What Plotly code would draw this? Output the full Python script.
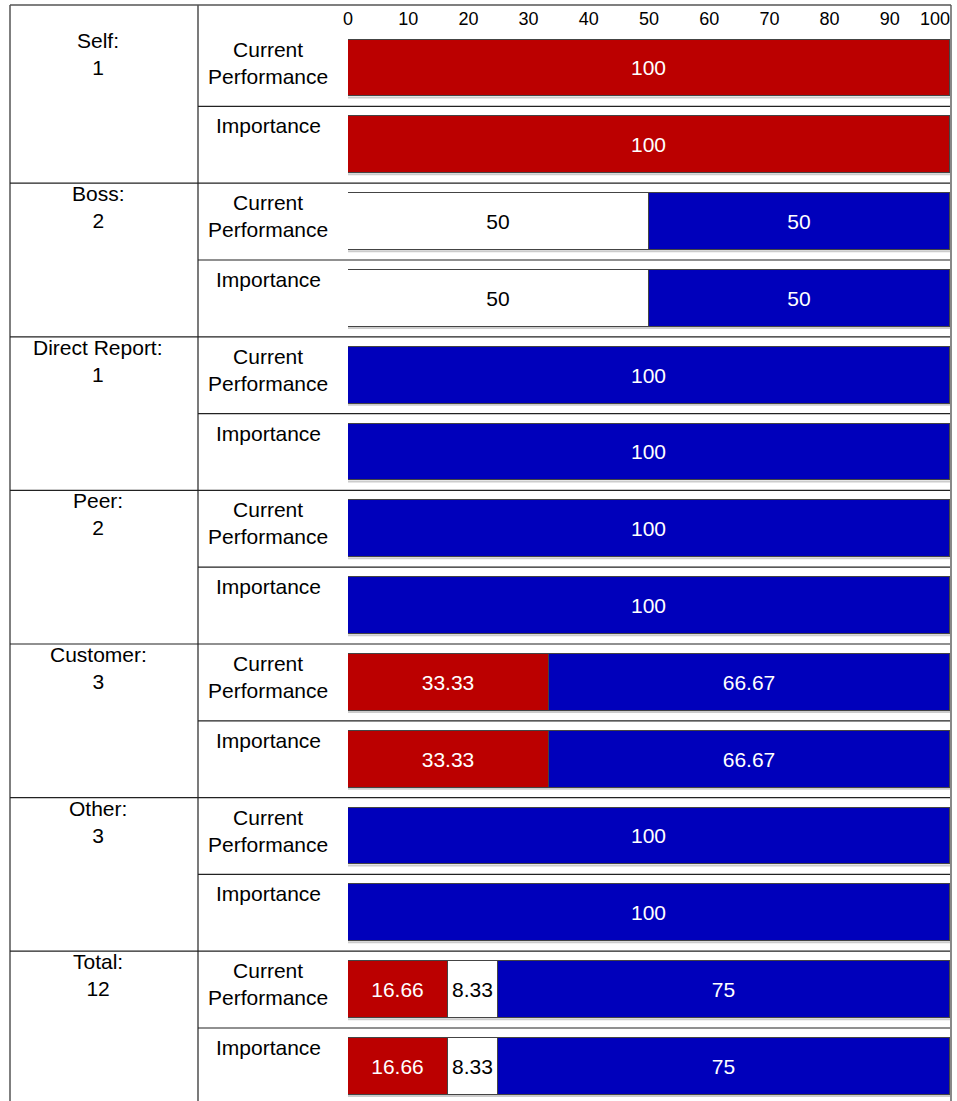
import plotly.graph_objects as go

# ---- data ----
groups = ["Self:", "Boss:", "Direct Report:", "Peer:", "Customer:", "Other:", "Total:"]
group_counts = [1, 2, 1, 2, 3, 3, 12]
row_labels = ["Current<br>Performance", "Importance"] * 7

red_vals = [100, 100, None, None, None, None, None, None, 33.33, 33.33, None, None, 16.66, 16.66]
white_vals = [None, None, 50, 50, None, None, None, None, None, None, None, None, 8.33, 8.33]
blue_vals = [None, None, 50, 50, 100, 100, 100, 100, 66.67, 66.67, 100, 100, 75, 75]

tick_vals = [0, 10, 20, 30, 40, 50, 60, 70, 80, 90, 100]
tick_text = ["0", "10", "20", "30", "40", "50", "60", "70", "80", "90", "100"]

# ---- layout geometry (pixels) ----
W, H = 957, 1101
ML, MR, MT, MB = 348, 7, 30, 0
PW = W - ML - MR
PH = H - MT - MB
ROW_PX = 76.8
y_top = -(68 - MT) / ROW_PX
y_bot = y_top + PH / ROW_PX

def px_x(p):
    return (p - ML) / PW

def px_y(p):
    return (H - MB - p) / PH

FONT = "Liberation Sans, Arial, sans-serif"
RED = "#bb0000"
BLUE = "#0000bb"
FS = 21

rows = list(range(len(row_labels)))

def fmt(v):
    return None if v is None else f"{v:g}"

fig = go.Figure()
for vals, color, tcolor in [(red_vals, RED, "white"), (white_vals, "white", "black"), (blue_vals, BLUE, "white")]:
    fig.add_trace(go.Bar(
        y=rows, x=vals, orientation="h", width=0.74,
        marker=dict(color=color, line=dict(color="#444", width=1)),
        text=[fmt(v) for v in vals], textposition="inside", insidetextanchor="middle",
        textfont=dict(color=tcolor, size=FS, family=FONT),
        textangle=0, hoverinfo="skip", showlegend=False, cliponaxis=False,
    ))
# empty trace so the overlaying top axis (carrying the right-edge "100" label) is drawn
fig.add_trace(go.Scatter(x=[], y=[], xaxis="x2", yaxis="y", mode="markers",
                         hoverinfo="skip", showlegend=False))

shapes = []
line_dark = dict(color="#222", width=1.2)
x_left = px_x(10)
x_mid = px_x(198)
shapes.append(dict(type="line", xref="paper", yref="paper", x0=x_left, x1=x_left, y0=px_y(5), y1=0, line=dict(color="#555", width=1.5)))
shapes.append(dict(type="line", xref="paper", yref="paper", x0=x_mid, x1=x_mid, y0=px_y(5), y1=0, line=line_dark))
shapes.append(dict(type="line", xref="paper", yref="paper", x0=x_left, x1=px_x(951), y0=px_y(5), y1=px_y(5), line=dict(color="#555", width=1.5)))
shapes.append(dict(type="line", xref="paper", yref="paper", x0=px_x(951), x1=px_x(951), y0=px_y(5), y1=0,
                   line=dict(color="#888", width=2), layer="below"))
for g in range(len(groups)):
    r = 2 * g
    if g > 0:
        shapes.append(dict(type="line", xref="paper", yref="y", x0=x_left, x1=1, y0=r - 0.5, y1=r - 0.5, line=line_dark))
    shapes.append(dict(type="line", xref="paper", yref="y", x0=x_mid, x1=1, y0=r + 0.5, y1=r + 0.5, line=line_dark))
# faint shadow line under each bar
for r in rows:
    shapes.append(dict(type="line", xref="paper", yref="y", x0=0, x1=1, y0=r + 0.385, y1=r + 0.385,
                       line=dict(color="#cccccc", width=2), layer="below"))

half_row = ROW_PX / 2
annotations = []
for g, (name, cnt) in enumerate(zip(groups, group_counts)):
    annotations.append(dict(
        xref="paper", yref="y", x=px_x(98), y=2 * g, yanchor="top", xanchor="center",
        yshift=half_row + 3, text=f"{name}<br>{cnt}", showarrow=False, align="center",
        font=dict(size=FS, family=FONT, color="black"),
    ))
for r, lab in zip(rows, row_labels):
    annotations.append(dict(
        xref="paper", yref="y", x=px_x(268), y=r, yanchor="top", xanchor="center",
        yshift=half_row - 6, text=lab, showarrow=False, align="center",
        font=dict(size=FS, family=FONT, color="black"),
    ))

tick_font = dict(size=18, family=FONT, color="black")
common_axis = dict(side="top", range=[0, 100], showgrid=False, zeroline=False, showline=False,
                   ticks="", automargin=False, tickfont=tick_font, fixedrange=True)

fig.update_layout(
    width=W, height=H,
    margin=dict(l=ML, r=MR, t=MT, b=MB, pad=0, autoexpand=False),
    barmode="stack", bargap=0,
    plot_bgcolor="white", paper_bgcolor="white",
    font=dict(family=FONT, color="black"),
    uniformtext=dict(minsize=FS, mode="show"),
    shapes=shapes, annotations=annotations,
    xaxis=dict(tickvals=tick_vals[:-1], ticktext=tick_text[:-1], **common_axis),
    # last tick label sits at the right edge: drawn on an overlaying axis, right-aligned to its tick
    xaxis2=dict(overlaying="x", anchor="y", tickvals=tick_vals[-1:], ticktext=tick_text[-1:],
                ticklabelposition="outside left", **common_axis),
    yaxis=dict(range=[y_bot, y_top], showticklabels=False, showgrid=False, zeroline=False,
               showline=False, ticks="", fixedrange=True, automargin=False),
)

fig.write_html("out.html", config={"displayModeBar": False},
               post_script="document.body.style.margin='0px';document.body.style.overflow='hidden';")
